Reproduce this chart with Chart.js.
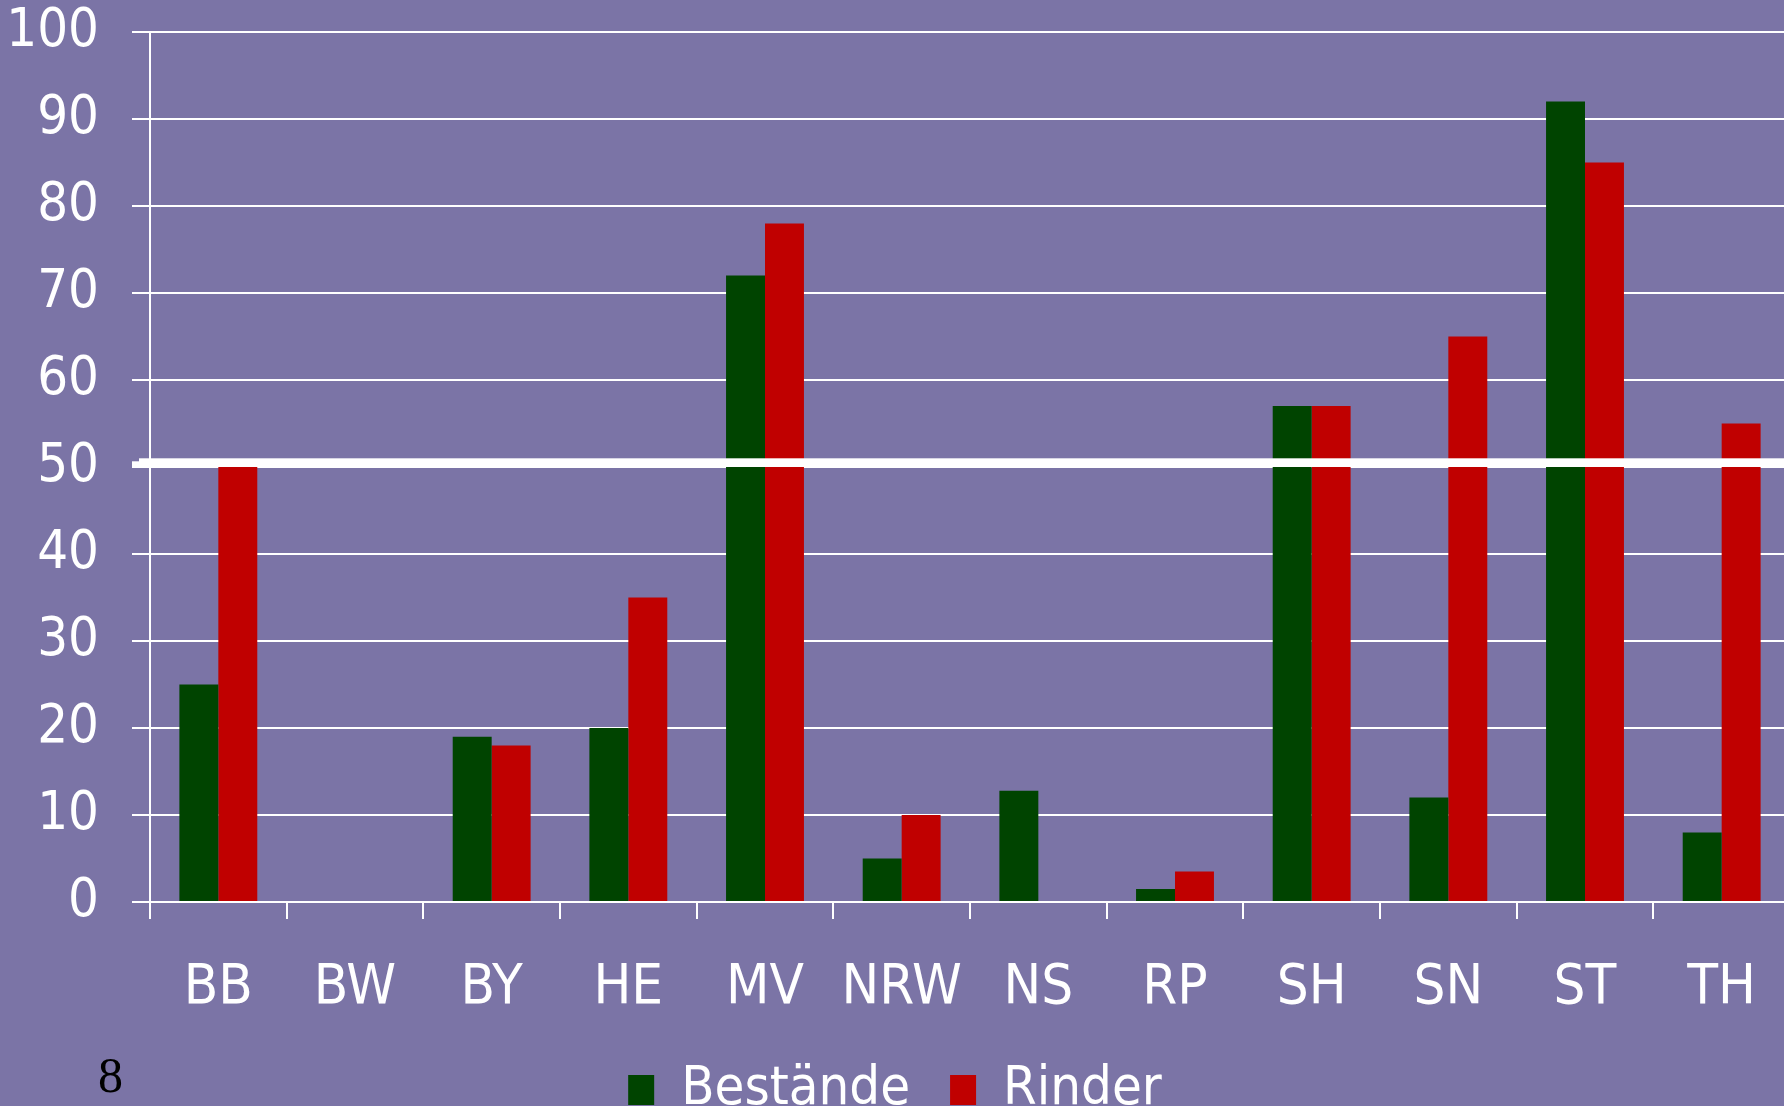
<!DOCTYPE html>
<html>
<head>
<meta charset="utf-8">
<script src="https://cdn.jsdelivr.net/npm/chart.js@4.4.1/dist/chart.umd.min.js"></script>
<style>
  html, body { margin: 0; padding: 0; overflow: hidden; background: #7b74a6; }
  #wrap { position: relative; width: 1784px; height: 1106px; overflow: hidden; }
  #pageNo { position: absolute; left: 98px; top: 1046px; font: 50px "Liberation Serif", serif; color: #000; }
</style>
</head>
<body>
<div id="wrap">
  <canvas id="myChart" width="1790" height="1127"></canvas>
  <div id="pageNo">8</div>
</div>
<script>
const laender = ['BB', 'BW', 'BY', 'HE', 'MV', 'NRW', 'NS', 'RP', 'SH', 'SN', 'ST', 'TH'];
const bestaende = [25, 0, 19, 20, 72, 5, 12.8, 1.5, 57, 12, 92, 8];
const rinder = [50, 0, 18, 35, 78, 10, 0, 3.5, 57, 65, 85, 55];
const yTicks = [0, 10, 20, 30, 40, 50, 60, 70, 80, 90, 100];
const markerBand = [50, 51];

const fontFam = '"DejaVu Sans Condensed", "DejaVu Sans", sans-serif';

// white band across the plot at 50 %
const bandPlugin = {
  id: 'band',
  afterDatasetsDraw(chart) {
    const y = chart.scales.y;
    const c = chart.ctx;
    const top = y.getPixelForValue(markerBand[1]);
    const bottom = y.getPixelForValue(markerBand[0]);
    c.save();
    c.fillStyle = '#ffffff';
    c.fillRect(chart.chartArea.left - 11, top, chart.width, bottom - top);
    c.fillRect(chart.chartArea.left - 18, top + 3, 8, bottom - top - 3);
    c.restore();
  }
};

function myChart() {
  const ctx = document.getElementById('myChart');
  new Chart(ctx, {
    type: 'bar',
    data: {
      labels: laender,
      datasets: [{
        label: 'Bestände',
        data: bestaende,
        backgroundColor: '#004400',
        borderWidth: 0
      }, {
        label: 'Rinder',
        data: rinder,
        backgroundColor: '#c00000',
        borderWidth: 0
      }]
    },
    options: {
      responsive: false,
      animation: false,
      layout: { padding: 0 },
      datasets: { bar: { barPercentage: 1, categoryPercentage: 0.57 } },
      scales: {
        x: {
          grid: { color: '#ffffff', lineWidth: 2, drawOnChartArea: false, tickLength: 17, offset: true },
          border: { color: '#ffffff', width: 2 },
          ticks: { color: '#ffffff', font: { family: fontFam, size: 56 }, padding: 36, maxRotation: 0 },
          afterFit(s) { s.height = 121; s.paddingRight = 0; }
        },
        y: {
          min: 0,
          max: 100,
          afterBuildTicks(s) { s.ticks = yTicks.map(v => ({ value: v })); },
          grid: { color: '#ffffff', lineWidth: 2, tickLength: 18 },
          border: { color: '#ffffff', width: 2 },
          ticks: { color: '#ffffff', font: { family: fontFam, size: 54 }, padding: 33 },
          afterFit(s) { s.width = 150; s.paddingTop = 32; }
        }
      },
      plugins: {
        legend: {
          position: 'bottom',
          labels: {
            color: '#ffffff',
            font: { family: fontFam, size: 54 },
            boxWidth: 26,
            boxHeight: 30,
            padding: 40
          }
        },
        tooltip: { enabled: false }
      }
    },
    plugins: [bandPlugin]
  });
}

myChart();
</script>
</body>
</html>
